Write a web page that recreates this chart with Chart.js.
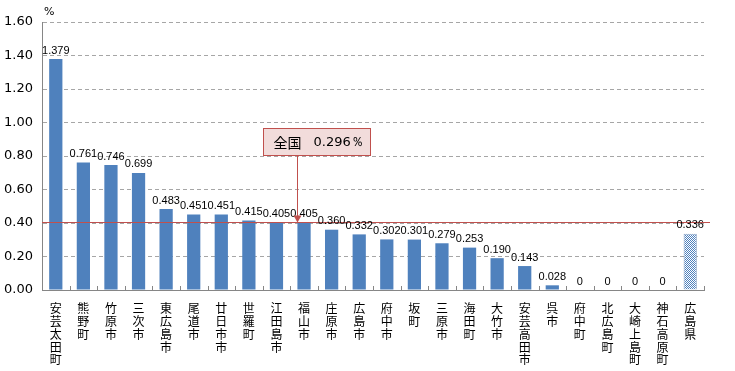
<!DOCTYPE html>
<html>
<head>
<meta charset="utf-8">
<script src="https://cdn.jsdelivr.net/npm/chart.js@4.4.1/dist/chart.umd.min.js"></script>
<style>
  html, body { margin: 0; padding: 0; background: #fff; }
  #wrap { width: 735px; height: 371px; position: relative; }
</style>
</head>
<body>
<div id="wrap"><canvas id="chart" width="735" height="371"></canvas></div>
<script>
// municipalities, sorted by rate (prefecture total last)
const categories = ['安芸太田町', '熊野町', '竹原市', '三次市', '東広島市', '尾道市', '廿日市市', '世羅町',
    '江田島市', '福山市', '庄原市', '広島市', '府中市', '坂町', '三原市', '海田町', '大竹市', '安芸高田市',
    '呉市', '府中町', '北広島町', '大崎上島町', '神石高原町', '広島県'];
const rates = [1.379, 0.761, 0.746, 0.699, 0.483, 0.451, 0.451, 0.415, 0.405, 0.405, 0.360, 0.332,
    0.302, 0.301, 0.279, 0.253, 0.190, 0.143, 0.028, 0, 0, 0, 0, 0.336];
const yMin = 0;
const yMax = 1.6;
const yStep = 0.2;
const unitLabel = '%';
const nationalLabel = ['全国', '0.296％'];
const refLineValue = 0.408;   // red line as drawn in the picture
const calloutIndex = 8.73;    // where the arrow lands along the category axis
const calloutTop = 0.97;      // top of the callout box (y value)

const BLUE = '#4F81BD';
const RED = '#C0504D';

// checkered fill for the prefecture bar
function makeChecker() {
    const c = document.createElement('canvas');
    c.width = 2; c.height = 2;
    const g = c.getContext('2d');
    g.fillStyle = '#fff';
    g.fillRect(0, 0, 2, 2);
    g.fillStyle = BLUE;
    g.fillRect(0, 0, 1, 1);
    g.fillRect(1, 1, 1, 1);
    return g.createPattern(c, 'repeat');
}

const ctx = document.getElementById('chart').getContext('2d');
const checker = makeChecker();
const lastIdx = categories.length - 1;

const overlayPlugin = {
    id: 'overlay',
    afterDatasetsDraw(chart) {
        const c = chart.ctx;
        const x = chart.scales.x;
        const y = chart.scales.y;
        const area = chart.chartArea;
        const step = x.getPixelForValue(1) - x.getPixelForValue(0);

        c.save();
        // inside tick marks on the category axis
        c.strokeStyle = '#868686';
        c.lineWidth = 1;
        for (let i = 0; i <= categories.length; i++) {
            const px = Math.round(x.getPixelForValue(0) - step / 2 + i * step) + 0.5;
            c.beginPath();
            c.moveTo(px, area.bottom);
            c.lineTo(px, area.bottom - 4);
            c.stroke();
        }

        // reference line
        const ry = Math.round(y.getPixelForValue(refLineValue)) + 0.5;
        c.strokeStyle = RED;
        c.beginPath();
        c.moveTo(area.left, ry);
        c.lineTo(area.right + 6, ry);
        c.stroke();

        // value labels
        c.fillStyle = '#000';
        c.font = '11px "Liberation Sans", Arial, sans-serif';
        c.textAlign = 'center';
        c.textBaseline = 'bottom';
        const meta = chart.getDatasetMeta(0);
        meta.data.forEach((bar, i) => {
            const v = rates[i];
            const txt = v === 0 ? '0' : v.toFixed(3);
            c.fillText(txt, bar.x, bar.y - 3);
        });

        // callout box with arrow
        const ax = Math.round(x.getPixelForValue(0) + calloutIndex * step) + 0.5;
        const bTop = Math.round(y.getPixelForValue(calloutTop)) + 0.5;
        const bLeft = ax - 34;
        const bW = 107, bH = 27;
        c.fillStyle = '#F2DCDB';
        c.strokeStyle = RED;
        c.fillRect(bLeft, bTop, bW, bH);
        c.strokeRect(bLeft, bTop, bW, bH);
        c.beginPath();
        c.moveTo(ax, bTop + bH);
        c.lineTo(ax, ry - 5);
        c.stroke();
        c.fillStyle = RED;
        c.beginPath();
        c.moveTo(ax - 4, ry - 7);
        c.lineTo(ax + 4, ry - 7);
        c.lineTo(ax, ry);
        c.closePath();
        c.fill();

        c.fillStyle = '#000';
        c.textAlign = 'left';
        c.textBaseline = 'middle';
        c.font = '14px "Noto Sans CJK JP", sans-serif';
        c.fillText(nationalLabel[0], bLeft + 10, bTop + bH / 2 + 1);
        c.font = '13px "DejaVu Sans", sans-serif';
        c.fillText(nationalLabel[1], bLeft + 50, bTop + bH / 2 + 1);

        // unit label
        c.font = '11px "DejaVu Sans", sans-serif';
        c.textBaseline = 'middle';
        c.fillText(unitLabel, area.left + 2, 12);
        c.restore();
    }
};

new Chart(ctx, {
    type: 'bar',
    data: {
        labels: categories.map(s => s.split('')),
        datasets: [{
            data: rates,
            backgroundColor: rates.map((v, i) => i === lastIdx ? checker : BLUE),
            borderColor: rates.map((v, i) => i === lastIdx ? '#8FA8C8' : BLUE),
            borderWidth: rates.map((v, i) => i === lastIdx ? 1 : 0),
            barPercentage: 0.48,
            categoryPercentage: 1
        }]
    },
    options: {
        responsive: false,
        animation: false,
        layout: { padding: { top: 22, right: 31, left: 0, bottom: 0 } },
        plugins: {
            legend: { display: false },
            tooltip: { enabled: false }
        },
        scales: {
            x: {
                grid: { display: false },
                border: { color: '#868686' },
                ticks: {
                    color: '#000',
                    font: { family: '"Noto Sans CJK JP", sans-serif', size: 12, lineHeight: 1.07 },
                    padding: 4,
                    maxRotation: 0,
                    autoSkip: false
                },
                afterFit(scale) { scale.height = 81; }
            },
            y: {
                min: yMin,
                max: yMax,
                grid: {
                    color: '#A6A6A6',
                    drawTicks: false
                },
                border: { color: '#868686', dash: [4, 3] },
                ticks: {
                    stepSize: yStep,
                    color: '#000',
                    padding: 9,
                    font: { family: '"DejaVu Sans", sans-serif', size: 13 },
                    callback: v => v.toFixed(2)
                },
                afterFit(scale) { scale.width = 42; }
            }
        }
    },
    plugins: [overlayPlugin]
});
</script>
</body>
</html>
